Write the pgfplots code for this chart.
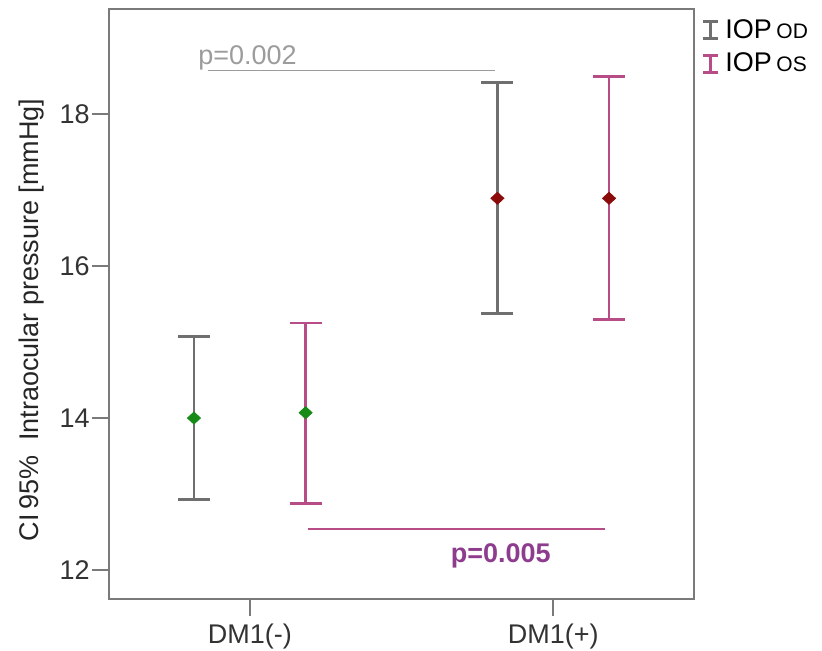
\documentclass[border=0pt]{standalone}
\usepackage{pgfplots}
\pgfplotsset{compat=1.18}
\usepackage{pgfplotstable}
\usepackage{fontspec}
\setmainfont{Liberation Sans}

\definecolor{odgray}{HTML}{6F6F6F}
\definecolor{ospink}{HTML}{B84C86}
\definecolor{framegray}{HTML}{7A7A7A}
\definecolor{pgray}{HTML}{9C9C9C}
\definecolor{ppurple}{HTML}{8E3D8E}
\definecolor{mgreen}{HTML}{178A17}
\definecolor{mred}{HTML}{8B0A0A}

% x: group position (1 = DM1(-), 2 = DM1(+)), side offset for OD / OS
\pgfplotstableread{
x     y      ep    em    c
0.816 14.00  1.07  1.07  a
1.816 16.89  1.52  1.51  b
}\iopod
\pgfplotstableread{
x     y      ep    em    c
1.184 14.07  1.18  1.19  a
2.184 16.89  1.60  1.59  b
}\iopos

\pgfplotsset{
  ibar/.style={legend image code/.code={
    \draw[#1, line width=1.5pt] (0pt,-4.25pt)--(7.5pt,-4.25pt)
      (3.75pt,-4.25pt)--(3.75pt,4.25pt) (0pt,4.25pt)--(7.5pt,4.25pt);}},
  ciplot/.style={scatter, only marks, scatter src=explicit symbolic,
    scatter/classes={a={mark=diamond*, draw=mgreen, fill=mgreen},
                     b={mark=diamond*, draw=mred, fill=mred}},
    mark size=3pt, every mark/.append style={xscale=1.45},
    forget plot,
    error bars/.cd, y dir=both, y explicit,
    error bar style={line width=1.4pt, color=#1},
    error mark options={rotate=90, mark size=8pt, line width=1.4pt, color=#1, xscale=1}},
}

\begin{document}
\begin{tikzpicture}
\useasboundingbox (-54.5pt,-26pt) rectangle (356.5pt,299.5pt);
\begin{axis}[
  at={(0,0)}, anchor=south west,
  scale only axis,
  width=292.5pt, height=295pt,
  font=\fontsize{13.5}{16}\selectfont,
  /pgf/number format/assume math mode=true,
  xmin=0.536, xmax=2.464,
  ymin=11.62, ymax=19.38,
  xtick={1,2},
  xticklabels={DM1(-),DM1(+)},
  ytick={12,14,16,18},
  xtick pos=bottom, ytick pos=left,
  tick align=outside,
  major tick length=8.5pt,
  tick style={framegray, line width=0.9pt},
  axis line style={framegray, line width=1pt},
  ticklabel style={text=black!80},
  xticklabel style={yshift=-0.5pt},
  yticklabel style={inner sep=1pt},
  ylabel={CI\,95\%\ \ Intraocular pressure [mmHg]},
  ylabel style={at={(axis description cs:-0.132,0.473)}, anchor=center, text=black!85},
  legend style={at={(axis description cs:1.012,0.99)}, anchor=north west,
    draw=none, fill=none, row sep=2pt,
    font=\fontsize{13.5}{16}\selectfont,
    inner sep=0pt,
    nodes={inner xsep=3pt}},
  legend cell align=left,
  clip=false,
]
\addlegendimage{ibar=odgray}
\addlegendentry{IOP\,{\fontsize{10.5}{12}\selectfont OD}}
\addlegendimage{ibar=ospink}
\addlegendentry{IOP\,{\fontsize{10.5}{12}\selectfont OS}}
\addplot[ciplot=odgray]
  table[x=x, y=y, y error plus=ep, y error minus=em, meta=c] {\iopod};
\addplot[ciplot=ospink]
  table[x=x, y=y, y error plus=ep, y error minus=em, meta=c] {\iopos};
% significance lines
\addplot[pgray, line width=0.8pt, forget plot] coordinates {(0.862,18.57) (1.809,18.57)};
\addplot[ospink, line width=0.8pt, forget plot] coordinates {(1.191,12.54) (2.171,12.54)};
\node[anchor=base west, text=pgray, inner sep=0pt] at (axis cs:0.829,18.645) {p=0.002};
\node[anchor=base west, text=ppurple, inner sep=0pt, font=\fontsize{13.5}{16}\selectfont\bfseries] at (axis cs:1.661,12.105) {p=0.005};
\end{axis}
\end{tikzpicture}
\end{document}
